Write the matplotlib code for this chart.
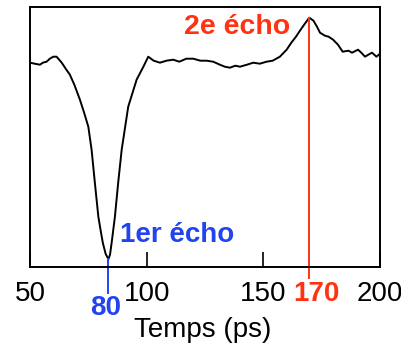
import numpy as np
import matplotlib.pyplot as plt

plt.rcParams['font.family'] = ['Liberation Sans', 'DejaVu Sans']

# signal trace (arbitrary units, time in ps)
t = [50, 52, 54.3, 55.5, 57.1, 58.5, 60, 61.4, 62.5, 63.6, 65.3, 67.1, 69, 71.4, 73.2, 75,
     76.4, 77.8, 79.3, 80.3, 81.2, 82.4, 83.6, 84.3, 85.0, 86.4, 87.8, 89.3, 92.1, 95.7,
     98.6, 100.7, 103, 105.7, 108.5,
     111.4, 114, 117, 120, 123, 125.7, 128.5, 131.4, 133.5, 135.7, 138, 140, 143, 145.7,
     148.5, 151.4, 154, 157.1, 160, 162, 164, 165.7, 167.5, 169.7, 171.5, 173, 174.3,
     176.4, 178, 179.9, 182, 184, 186.5, 188, 190.6, 192, 193.6, 195, 196.6, 198.5, 200]
signal = [204, 203, 202, 204, 205, 208, 210, 210, 207, 204, 198, 192, 182, 167, 154, 140,
          117, 84, 50, 36, 24, 13, 7.5, 12, 24, 50, 84, 117, 160, 187,
          200, 210, 206, 204, 206,
          207, 205, 208, 208, 206, 206, 205, 202, 200, 199, 201, 200, 202, 204,
          203, 205, 206, 210, 217, 224, 230, 236, 242, 249, 246, 240, 234,
          231, 230, 227, 222, 215, 216, 214, 217, 214, 210, 212, 214, 210, 213]

echo1_t = 83.6
echo1_label = "80"
echo2_t = 169.7
echo2_label = "170"
ticks = [50, 100, 150, 200]

red = '#ff3311'
blue = '#2244ee'

fig = plt.figure(figsize=(4.02, 3.54), dpi=100)
ax = fig.add_axes([0.0746, 0.2466, 0.8706, 0.7345])

ax.plot(t, signal, color='black', lw=1.4)
ax.plot([echo2_t, echo2_t], [249, -11], color=red, lw=1.4, clip_on=False)
ax.plot([echo1_t, echo1_t], [7.5, -26], color=blue, lw=1.4, clip_on=False)

ax.set_xlim(50, 200)
ax.set_ylim(0, 260)
ax.set_xticks(ticks)
ax.set_xticklabels([str(v) for v in ticks], fontsize=20)
ax.tick_params(axis='x', direction='in', length=11, width=1.2, pad=10)
ax.set_yticks([])
for s in ax.spines.values():
    s.set_linewidth(1.4)

ax.text(echo1_t - 1, -28, echo1_label, color=blue, fontsize=20, fontweight='bold',
        ha='center', va='top')
ax.text(echo2_t + 3, -14, echo2_label, color=red, fontsize=20, fontweight='bold',
        ha='center', va='top')
ax.text(88.5, 32, "1er écho", color=blue, fontsize=20, fontweight='bold',
        ha='left', va='center')
ax.text(161.5, 240, "2e écho", color=red, fontsize=20.5, fontweight='bold',
        ha='right', va='center')

fig.text(203 / 402, 1 - 330 / 354, "Temps (ps)", fontsize=20, ha='center', va='center')

fig.savefig('out.png', dpi=100)
